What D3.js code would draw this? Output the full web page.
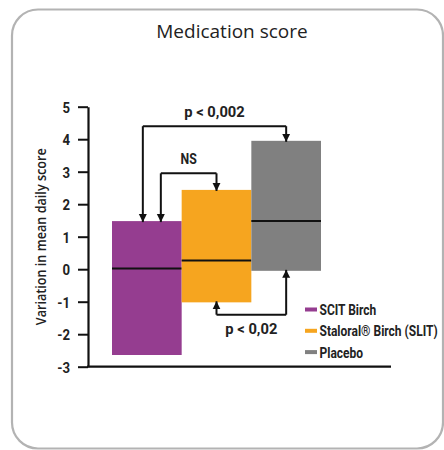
<!DOCTYPE html>
<html>
<head>
<meta charset="utf-8">
<script src="https://cdn.jsdelivr.net/npm/d3@7"></script>
<style>
  body { margin: 0; background: #fff; }
  text { font-family: Roboto, "Liberation Sans", sans-serif; fill: #222; }
</style>
</head>
<body>
<div id="chart"></div>
<script>
// data
const groups = ["SCIT Birch", "Staloral\u00ae Birch (SLIT)", "Placebo"];
const colors = ["#953d90", "#f6a51f", "#808080"];
const boxTop = [1.48, 2.44, 3.95];
const boxBottom = [-2.64, -1.02, -0.05];
const medians = [0.02, 0.27, 1.48];
const yTicks = [-3, -2, -1, 0, 1, 2, 3, 4, 5];

// comparisons between groups
const comparisons = [
    {from: 0, to: 2, level: 4.4, label: "p < 0,002", side: "top", fromOff: -4},
    {from: 0, to: 1, level: 2.95, label: "NS", side: "top", fromOff: 14},
    {from: 1, to: 2, level: -1.4, label: "p < 0,02", side: "bottom", fromOff: 0}
];

const width = 444, height = 450;

// squeeze text horizontally to get a condensed look
function condense(sel, k) {
    sel.each(function() {
        const t = d3.select(this);
        const tx = +t.attr("x") || 0, ty = +t.attr("y") || 0;
        t.attr("x", 0).attr("y", 0)
            .attr("transform", `translate(${tx},${ty}) scale(${k},1)`);
    });
}

const svg = d3.select("#chart").append("svg")
    .attr("width", width)
    .attr("height", height);

// frame
svg.append("rect")
    .attr("x", 12).attr("y", 9.5)
    .attr("width", 431).attr("height", 439)
    .attr("rx", 26)
    .attr("fill", "#fff")
    .attr("stroke", "#b3b3b3")
    .attr("stroke-width", 2.2);

svg.append("text")
    .attr("x", 232)
    .attr("y", 38)
    .attr("text-anchor", "middle")
    .style("font-family", "'Open Sans', sans-serif")
    .style("font-size", "19px")
    .text("Medication score");

const y = d3.scaleLinear().domain([-3, 5]).range([366.7, 106.7]);
const x = d3.scaleBand().domain(d3.range(groups.length)).range([112, 321]).paddingInner(0);

svg.append("defs").append("marker")
    .attr("id", "arrow")
    .attr("viewBox", "0 0 10 10")
    .attr("refX", 10).attr("refY", 5)
    .attr("markerWidth", 8).attr("markerHeight", 9)
    .attr("markerUnits", "userSpaceOnUse")
    .attr("orient", "auto")
    .append("path")
    .attr("d", "M0,0 L10,5 L0,10 Z")
    .attr("fill", "#111");

// boxes
groups.forEach((g, i) => {
    svg.append("rect")
        .attr("x", x(i))
        .attr("y", y(boxTop[i]))
        .attr("width", x.bandwidth())
        .attr("height", y(boxBottom[i]) - y(boxTop[i]))
        .attr("fill", colors[i]);
    svg.append("line")
        .attr("x1", x(i)).attr("x2", x(i) + x.bandwidth())
        .attr("y1", y(medians[i])).attr("y2", y(medians[i]))
        .attr("stroke", "#111")
        .attr("stroke-width", 2);
});

// axes
const yAxis = svg.append("g")
    .attr("transform", "translate(88,0)")
    .call(d3.axisLeft(y).tickValues(yTicks).tickSize(10).tickSizeOuter(0).tickFormat(d => String(d)));
yAxis.select(".domain").attr("stroke", "#111").attr("stroke-width", 2.2);
yAxis.selectAll(".tick line").attr("stroke", "#111").attr("stroke-width", 2);
yAxis.selectAll(".tick text")
    .attr("x", -18)
    .attr("dy", "0.36em")
    .style("font-size", "15.5px")
    .style("font-weight", 700)
    .style("font-family", "Roboto, sans-serif")
    .attr("fill", "#222")
    .call(condense, 0.85);

svg.append("line")
    .attr("x1", 87).attr("x2", 391)
    .attr("y1", y(-3)).attr("y2", y(-3))
    .attr("stroke", "#111").attr("stroke-width", 2.2);

svg.append("text")
    .attr("transform", `translate(46,${y(1)}) rotate(-90)`)
    .attr("text-anchor", "middle")
    .style("font-family", "'Open Sans', sans-serif")
    .style("font-size", "14px")
    .style("font-weight", 600)
    .text("Variation in mean daily score")
    .call(t => t.attr("textLength", 177).attr("lengthAdjust", "spacingAndGlyphs"));

// significance brackets
const cx = i => x(i) + x.bandwidth() / 2;
comparisons.forEach(c => {
    const x1 = cx(c.from) + c.fromOff, x2 = cx(c.to);
    const ly = y(c.level);
    const end1 = c.side === "top" ? y(boxTop[c.from]) : y(boxBottom[c.from]);
    const end2 = c.side === "top" ? y(boxTop[c.to]) : y(boxBottom[c.to]);
    const dir = c.side === "top" ? -1 : 1;
    svg.append("path")
        .attr("d", `M${x1},${ly} H${x2}`)
        .attr("fill", "none").attr("stroke", "#111").attr("stroke-width", 2);
    [[x1, end1], [x2, end2]].forEach(([px, py]) => {
        svg.append("path")
            .attr("d", `M${px},${ly} V${py - dir}`)
            .attr("fill", "none").attr("stroke", "#111").attr("stroke-width", 2)
            .attr("marker-end", "url(#arrow)");
    });
    svg.append("text")
        .attr("x", (x1 + x2) / 2)
        .attr("y", c.side === "top" ? ly - 9 : ly + 19)
        .attr("text-anchor", "middle")
        .style("font-size", "15px")
        .style("font-weight", 700)
        .text(c.label)
        .call(condense, c.label === "NS" ? 0.82 : 0.98);
});

// legend
const legend = svg.append("g").attr("transform", "translate(305,309.5)");
groups.forEach((g, i) => {
    legend.append("rect")
        .attr("x", 0).attr("y", i * 21.3 - 2)
        .attr("width", 12).attr("height", 4)
        .attr("fill", colors[i]);
    legend.append("text")
        .attr("x", 14.5).attr("y", i * 21.3 + 5.5)
        .style("font-size", "15px")
        .style("font-weight", 700)
        .text(g)
        .call(condense, 0.8);
});
</script>
</body>
</html>
